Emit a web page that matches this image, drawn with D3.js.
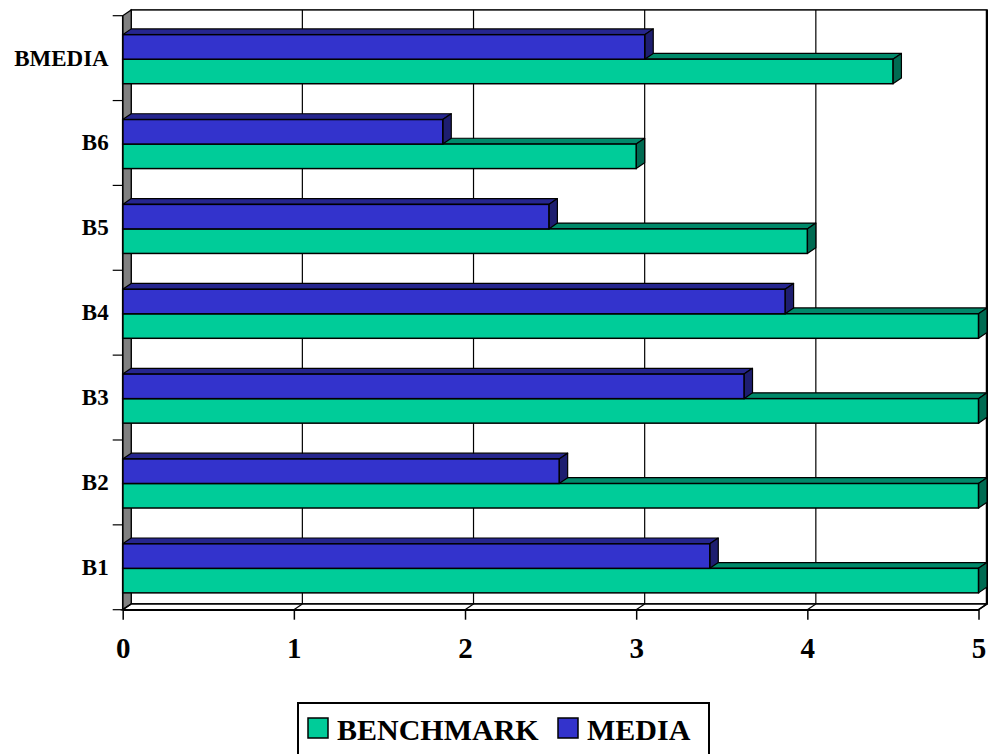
<!DOCTYPE html>
<html><head><meta charset="utf-8">
<script src="https://cdn.jsdelivr.net/npm/d3@7"></script>
<style>html,body{margin:0;padding:0;background:#fff;overflow:hidden}</style>
</head><body>
<svg id="chart" width="988" height="754"></svg>
<script>
const categories = ["B1","B2","B3","B4","B5","B6","BMEDIA"];
const seriesNames = ["BENCHMARK","MEDIA"];
const benchmark = [5,5,5,5,4,3,4.5];
const media = [3.43,2.55,3.63,3.87,2.49,1.87,3.05];
const xTicks = [0,1,2,3,4,5];

const colors = {
  BENCHMARK:{front:"#00CC99", top:"#00896A", side:"#006B52"},
  MEDIA:{front:"#3333CC", top:"#26268F", side:"#1E1E70"}
};
const DX = 8.5, DY = -5.8;
const font = "'Liberation Serif','Times New Roman',serif";

const svg = d3.select("#chart");
const x = d3.scaleLinear().domain([0,5]).range([122.7,978.5]);
const y = d3.scaleBand().domain(categories.slice().reverse()).range([15.7,609.7]).paddingInner(0).paddingOuter(0);
const sub = d3.scaleBand().domain(["MEDIA","BENCHMARK"]).range([0,y.bandwidth()]).paddingOuter(0.73).paddingInner(0).align(0.53);

const x0 = x(0), x1 = x(5), yTop = y.range()[0], yBot = y.range()[1];
const g = svg.append("g");

// back wall
g.append("rect").attr("x",x0+DX).attr("y",yTop+DY).attr("width",x1-x0).attr("height",yBot-yTop)
  .attr("fill","#fff").attr("stroke","#000").attr("stroke-width",1.5);
// grid lines on back wall
g.selectAll(".grid").data(xTicks.slice(1,-1)).join("line")
  .attr("x1",d=>x(d)+DX).attr("x2",d=>x(d)+DX).attr("y1",yTop+DY).attr("y2",yBot+DY)
  .attr("stroke","#000").attr("stroke-width",1.2);
// right edge thicker
g.append("line").attr("x1",x1+DX).attr("x2",x1+DX).attr("y1",yTop+DY).attr("y2",yBot+DY)
  .attr("stroke","#000").attr("stroke-width",2.5);
// left wall
g.append("polygon").attr("points",[[x0,yTop],[x0+DX,yTop+DY],[x0+DX,yBot+DY],[x0,yBot]].map(p=>p.join(",")).join(" "))
  .attr("fill","#808080").attr("stroke","#000").attr("stroke-width",1.2);
// floor
g.append("polygon").attr("points",[[x0,yBot],[x0+DX,yBot+DY],[x1+DX,yBot+DY],[x1,yBot]].map(p=>p.join(",")).join(" "))
  .attr("fill","#fff").attr("stroke","#000").attr("stroke-width",1.5);
g.selectAll(".floorgrid").data(xTicks).join("line")
  .attr("x1",d=>x(d)).attr("x2",d=>x(d)+DX).attr("y1",yBot).attr("y2",yBot+DY)
  .attr("stroke","#000").attr("stroke-width",1.2);

// category boundary ticks
const bounds = categories.map((c,i)=>y(c)).concat([yBot]);
g.selectAll(".ctick").data(bounds).join("line")
  .attr("x1",x0-10).attr("x2",x0).attr("y1",d=>d).attr("y2",d=>d)
  .attr("stroke","#000").attr("stroke-width",1.2);

// bars
const rows = [];
categories.forEach((c,i)=>{
  rows.push({cat:c, s:"BENCHMARK", v:benchmark[i]});
  rows.push({cat:c, s:"MEDIA", v:media[i]});
});
const barG = g.append("g");
rows.forEach(r=>{
  const by = y(r.cat)+sub(r.s), bh = sub.bandwidth(), bx = x(0), bw = x(r.v)-x(0);
  const col = colors[r.s];
  const bg = barG.append("g");
  bg.append("polygon").attr("points",[[bx,by],[bx+DX,by+DY],[bx+bw+DX,by+DY],[bx+bw,by]].map(p=>p.join(",")).join(" "))
    .attr("fill",col.top).attr("stroke","#000").attr("stroke-width",1.2).attr("stroke-linejoin","round");
  bg.append("polygon").attr("points",[[bx+bw,by],[bx+bw+DX,by+DY],[bx+bw+DX,by+bh+DY],[bx+bw,by+bh]].map(p=>p.join(",")).join(" "))
    .attr("fill",col.side).attr("stroke","#000").attr("stroke-width",1.2).attr("stroke-linejoin","round");
  bg.append("rect").attr("x",bx).attr("y",by).attr("width",bw).attr("height",bh)
    .attr("fill",col.front).attr("stroke","#000").attr("stroke-width",1.5);
});

// front left axis line
g.append("line").attr("x1",x0).attr("x2",x0).attr("y1",yTop).attr("y2",yBot).attr("stroke","#000").attr("stroke-width",1.5);

// x axis (front)
const xAxis = d3.axisBottom(x).tickValues(xTicks).tickFormat(d3.format("d")).tickSize(10).tickSizeOuter(0).tickPadding(18);
const xa = svg.append("g").attr("transform",`translate(0,${yBot})`).call(xAxis);
xa.select(".domain").attr("stroke","#000").attr("stroke-width",1.5);
xa.selectAll(".tick line").attr("stroke","#000").attr("stroke-width",1.5);
xa.selectAll(".tick text").attr("font-family",font).attr("font-weight","bold").attr("font-size",29).attr("fill","#000");

// y axis labels
const yAxis = d3.axisLeft(y).tickSize(0).tickPadding(14);
const ya = svg.append("g").attr("transform",`translate(${x0},0)`).call(yAxis);
ya.select(".domain").remove();
ya.selectAll(".tick text").attr("font-family",font).attr("font-weight","bold").attr("font-size",23).attr("fill","#000");

// legend
const lg = svg.append("g");
lg.append("rect").attr("x",298).attr("y",703).attr("width",411).attr("height",70)
  .attr("fill","#fff").attr("stroke","#000").attr("stroke-width",2);
const legItems = [{s:"BENCHMARK", sx:308, tx:337},{s:"MEDIA", sx:558, tx:587}];
legItems.forEach(it=>{
  lg.append("rect").attr("x",it.sx).attr("y",718).attr("width",20).attr("height",20)
    .attr("fill",colors[it.s].front).attr("stroke","#000").attr("stroke-width",1.5);
  lg.append("text").attr("x",it.tx).attr("y",740).text(it.s)
    .attr("font-family",font).attr("font-weight","bold").attr("font-size",30).attr("fill","#000");
});
</script>
</body></html>
